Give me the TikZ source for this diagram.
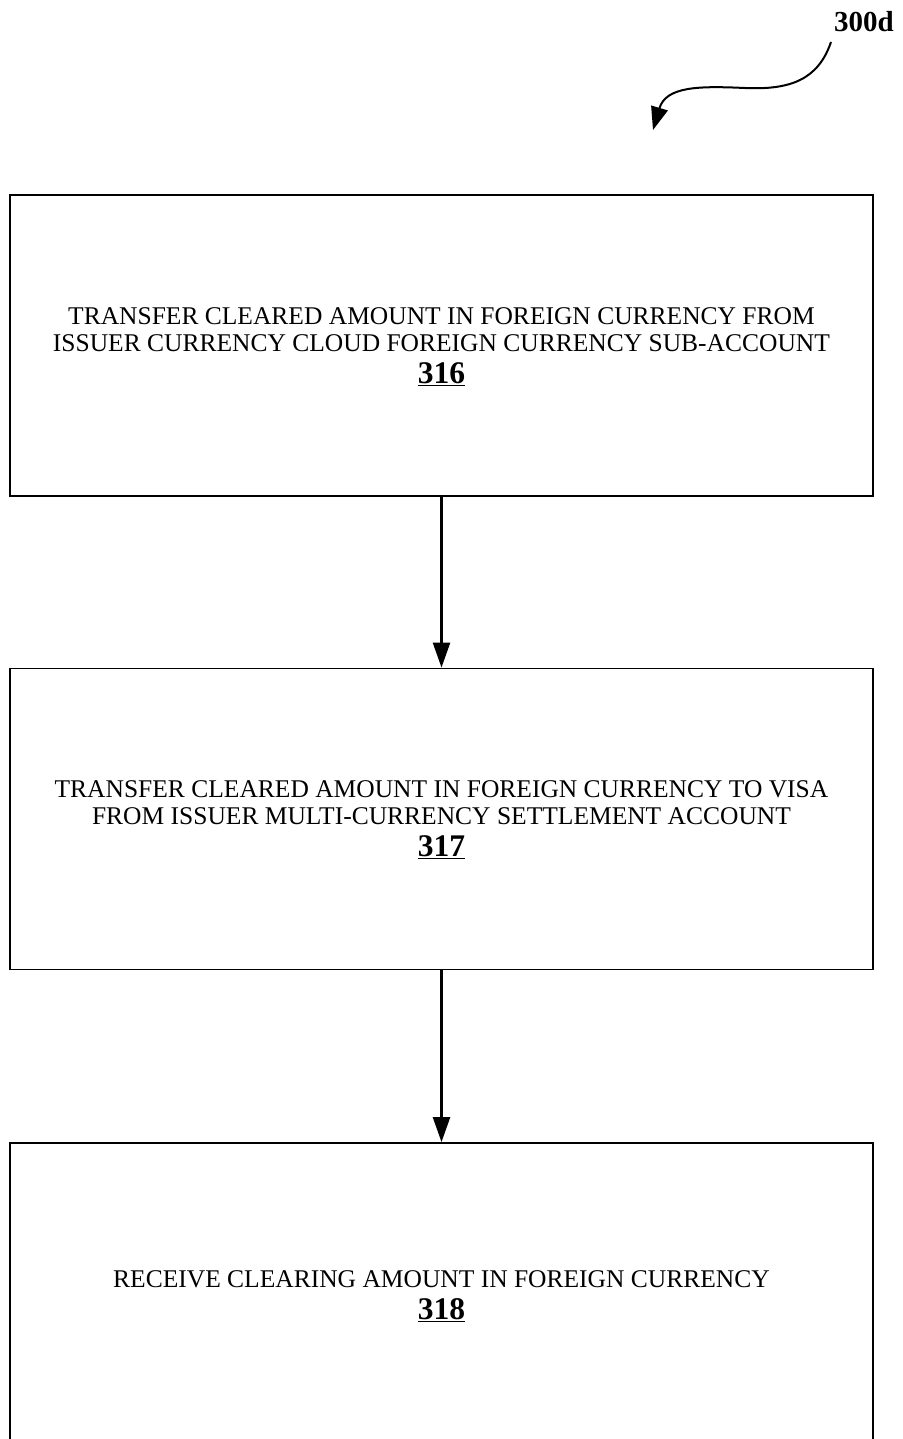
\documentclass[tikz,border=0pt]{standalone}
\usepackage{fontspec}
\setmainfont{Liberation Serif}
\usetikzlibrary{arrows.meta}
\newcommand{\stepnum}[1]{\fontsize{31.5}{31.5}\selectfont\bfseries\underline{#1}}
\begin{document}
\begin{tikzpicture}[x=1pt,y=-1pt,
  stepbox/.style={draw=black, line width=1.8pt, rectangle, minimum width=863pt,
    minimum height=301pt, inner sep=0pt},
  steptext/.style={align=center, font=\fontsize{25.5}{27}\selectfont},
  flow/.style={line width=2.4pt, -{Triangle[length=25pt,width=17pt]}},
  refnum/.style={font=\fontsize{29}{34}\selectfont\bfseries}]
\useasboundingbox (0,0) rectangle (902,1439);
\clip (0,0) rectangle (902,1439);

% process steps
\node[stepbox] (s316) at (441.5,345.5) {};
\node[stepbox] (s317) at (441.5,819) {};
\node[stepbox] (s318) at (441.5,1293.5) {};

\node[steptext] (t316) at (441.5,347) {TRANSFER CLEARED AMOUNT IN FOREIGN CURRENCY FROM\\
  ISSUER CURRENCY CLOUD FOREIGN CURRENCY SUB-ACCOUNT\\[5pt]
  \stepnum{316}};
\node[steptext] (t317) at (441.5,820) {TRANSFER CLEARED AMOUNT IN FOREIGN CURRENCY TO VISA\\
  FROM ISSUER MULTI-CURRENCY SETTLEMENT ACCOUNT\\[5pt]
  \stepnum{317}};
\node[steptext] (t318) at (441.5,1296) {RECEIVE CLEARING AMOUNT IN FOREIGN CURRENCY\\[5pt]
  \stepnum{318}};

% connectors
\draw[flow] (s316.south) -- (s317.north);
\draw[flow] (s317.south) -- (s318.north);

% figure label with curved pointer
\node[refnum] (lbl) at (864,22) {300d};
\coordinate (ptr) at (653,130);
\draw[line width=2pt, -{Triangle[length=23pt,width=17pt]}]
  (831,42) .. controls (818,80) and (790,90) .. (745,88)
  .. controls (700,86) and (666,86) .. (ptr);
\end{tikzpicture}
\end{document}
